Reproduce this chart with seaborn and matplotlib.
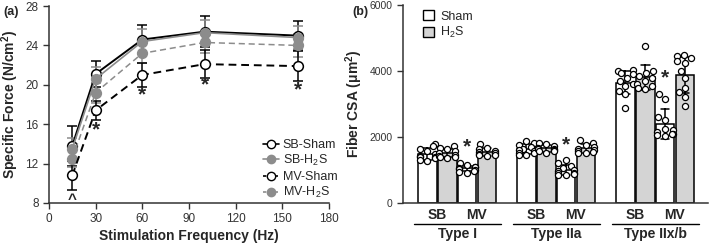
import matplotlib
matplotlib.use("Agg")
import matplotlib.pyplot as plt
import matplotlib.transforms as mtransforms
from matplotlib.lines import Line2D
from matplotlib.patches import Patch
import seaborn as sns
import pandas as pd

# ---- panel (a) data: specific force vs stimulation frequency ----
freq = [15, 30, 60, 100, 160]
sb_sham = [13.8, 21.1, 24.6, 25.4, 25.0]
sb_sham_sd = [2.0, 1.3, 1.5, 1.6, 1.5]
sb_h2s = [13.5, 20.6, 24.4, 25.3, 24.8]
sb_h2s_sd = [1.1, 1.2, 1.3, 1.3, 1.2]
mv_sham = [10.8, 17.4, 21.0, 22.1, 21.9]
mv_sham_sd = [1.5, 1.0, 1.2, 1.4, 1.5]
mv_h2s = [12.5, 19.2, 23.2, 24.3, 24.0]
mv_h2s_sd = [0.9, 1.0, 1.0, 1.1, 1.2]
star_a_x = [30, 60, 100, 160]
star_a_y = [15.4, 19.0, 20.0, 19.5]

# ---- panel (b) data: fiber CSA per animal ----
fiber_types = ["Type I", "Type IIa", "Type IIx/b"]
groups = ["SB", "MV"]
treatments = ["Sham", "H2S"]
csa = {
    ("Type I", "SB", "Sham"): [1800, 1720, 1650, 1560, 1480, 1430, 1400, 1380, 1350, 1300, 1280],
    ("Type I", "SB", "H2S"): [1740, 1680, 1620, 1560, 1500, 1450, 1420, 1400, 1380, 1360],
    ("Type I", "MV", "Sham"): [1200, 1150, 1100, 1080, 1050, 1020, 1000, 980, 950, 920],
    ("Type I", "MV", "H2S"): [1800, 1680, 1620, 1580, 1540, 1500, 1480, 1460, 1450, 1430],
    ("Type IIa", "SB", "Sham"): [1880, 1820, 1760, 1700, 1650, 1600, 1560, 1520, 1500, 1460, 1450],
    ("Type IIa", "SB", "H2S"): [1830, 1780, 1720, 1680, 1650, 1620, 1600, 1580, 1560, 1520],
    ("Type IIa", "MV", "Sham"): [1300, 1200, 1120, 1060, 1000, 960, 920, 900, 880, 860, 850],
    ("Type IIa", "MV", "H2S"): [1910, 1820, 1750, 1690, 1640, 1600, 1570, 1540, 1520, 1500],
    ("Type IIx/b", "SB", "Sham"): [4020, 3990, 3950, 3900, 3800, 3700, 3620, 3550, 3400, 3300, 2870],
    ("Type IIx/b", "SB", "H2S"): [4750, 4000, 3950, 3850, 3800, 3700, 3600, 3550, 3500, 3450],
    ("Type IIx/b", "MV", "Sham"): [3300, 3150, 2600, 2500, 2250, 2200, 2150, 2100, 2080, 2050, 2020],
    ("Type IIx/b", "MV", "H2S"): [4500, 4450, 4400, 4300, 4250, 4000, 3800, 3500, 3350, 3200, 2950],
}
star_b_y = [1700, 1750, 3780]

sns.set_style("ticks")
plt.rcParams["font.family"] = ["Liberation Sans", "DejaVu Sans"]
plt.rcParams["mathtext.fontset"] = "custom"
plt.rcParams["mathtext.rm"] = "Liberation Sans"
plt.rcParams["mathtext.bf"] = "Liberation Sans:bold"

fig = plt.figure(figsize=(7.09, 2.43), dpi=100)
ax1 = fig.add_axes([0.069, 0.165, 0.395, 0.81])
ax2 = fig.add_axes([0.568, 0.165, 0.43, 0.814])

# ---------------- panel (a) ----------------
gray = "#8c8c8c"
series = [
    ("SB-Sham", sb_sham, sb_sham_sd, "black", "white", "-", 1.4),
    ("SB-H$_2$S", sb_h2s, sb_h2s_sd, gray, gray, "-", 1.2),
    ("MV-H$_2$S", mv_h2s, mv_h2s_sd, gray, gray, (0, (4, 2.5)), 1.1),
    ("MV-Sham", mv_sham, mv_sham_sd, "black", "white", (0, (4, 2.5)), 1.4),
]
for name, y, sd, col, face, ls, lw in series:
    ax1.errorbar(freq, y, yerr=sd, fmt="none", ecolor=col, elinewidth=1.1,
                 capsize=3.5, capthick=1.1, zorder=2)
    sns.lineplot(x=freq, y=y, ax=ax1, color=col, linewidth=lw, linestyle=ls,
                 marker="o", markersize=7, markerfacecolor=face,
                 markeredgecolor="black" if face == "white" else gray,
                 markeredgewidth=1.1, zorder=3)

for x, y in zip(star_a_x, star_a_y):
    ax1.text(x, y, "*", ha="center", va="center", fontsize=15, fontweight="bold")
ax1.text(15, 8.3, "^", ha="center", va="center", fontsize=11, fontweight="bold")

ax1.set_xlim(0, 180)
ax1.set_ylim(8, 28)
ax1.set_xticks(range(0, 181, 30))
ax1.set_yticks(range(8, 29, 4))
ax1.set_xlabel("Stimulation Frequency (Hz)", fontsize=10, fontweight="bold", labelpad=3)
ax1.set_ylabel("Specific Force (N/cm$^\\mathbf{2}$)", fontsize=10, fontweight="bold", labelpad=3)
ax1.tick_params(labelsize=8.5, length=4, width=1, colors="#333333", labelcolor="#333333")
for s in ["left", "bottom"]:
    ax1.spines[s].set_linewidth(1.1)
    ax1.spines[s].set_color("#333333")
sns.despine(ax=ax1)

def handle(col, face, ls):
    return Line2D([0], [0], color=col, linestyle=ls, linewidth=1.2, marker="o",
                  markersize=6, markerfacecolor=face,
                  markeredgecolor="black" if face == "white" else gray)

leg_kw = dict(frameon=False, fontsize=9, handlelength=1.3, handletextpad=0.3,
              labelspacing=0.12, borderaxespad=0)
leg1 = ax1.legend([handle("black", "white", "-"), handle(gray, gray, "-")],
                  ["SB-Sham", "SB-H$_2$S"], loc="upper left",
                  bbox_to_anchor=(0.745, 0.35), **leg_kw)
ax1.add_artist(leg1)
ax1.legend([handle("black", "white", (0, (2, 1.5))), handle(gray, gray, (0, (2, 1.5)))],
           ["MV-Sham", "MV-H$_2$S"], loc="upper left",
           bbox_to_anchor=(0.745, 0.185), **leg_kw)

# ---------------- panel (b) ----------------
rows = []
order = []
for i, ft in enumerate(fiber_types):
    if i > 0:
        order += [f"gap{i}a"]
    for g in groups:
        for t in treatments:
            order.append(f"{ft}|{g}|{t}")
            for v in csa[(ft, g, t)]:
                rows.append({"cond": f"{ft}|{g}|{t}", "trt": t, "csa": v})
df = pd.DataFrame(rows)

sns.barplot(data=df, x="cond", y="csa", order=order, hue="trt", dodge=False,
            palette={"Sham": "white", "H2S": "#d4d4d4"}, edgecolor="black",
            linewidth=1.1, width=0.94, errorbar="sd", capsize=0.45,
            err_kws={"color": "black", "linewidth": 1.1}, legend=False, ax=ax2)
sns.swarmplot(data=df, x="cond", y="csa", order=order, color="white",
              edgecolor="black", linewidth=0.9, size=4.4, ax=ax2, zorder=4)

ax2.set_xlim(-1.25, len(order) + 0.15)
ax2.set_ylim(0, 6000)
ax2.set_yticks([0, 2000, 4000, 6000])
ax2.set_xticks([])
ax2.set_xlabel("")
ax2.set_ylabel("Fiber CSA (μm$^\\mathbf{2}$)", fontsize=10, fontweight="bold", labelpad=3)
ax2.tick_params(labelsize=7.5, length=4, width=1, colors="#333333", labelcolor="#333333")
for s in ["left", "bottom"]:
    ax2.spines[s].set_linewidth(1.1)
    ax2.spines[s].set_color("#333333")
sns.despine(ax=ax2)

trans = mtransforms.blended_transform_factory(ax2.transData, ax2.transAxes)
for i, ft in enumerate(fiber_types):
    start = order.index(f"{ft}|SB|Sham")
    ax2.text(start + 0.5, -0.025, "SB", transform=trans, ha="center", va="top",
             fontsize=10, fontweight="bold")
    ax2.text(start + 2.5, -0.025, "MV", transform=trans, ha="center", va="top",
             fontsize=10, fontweight="bold")
    ax2.plot([start - 0.7, start + 3.7], [-0.105, -0.105], transform=trans,
             color="black", linewidth=1, clip_on=False)
    ax2.text(start + 1.5, -0.122, ft, transform=trans, ha="center", va="top",
             fontsize=10, fontweight="bold")
    ax2.text(start + 2, star_b_y[i], "*", ha="center", va="center",
             fontsize=15, fontweight="bold")

ax2.legend([Patch(facecolor="white", edgecolor="black", linewidth=1),
            Patch(facecolor="#d4d4d4", edgecolor="black", linewidth=1)],
           ["Sham", "H$_2$S"], loc="upper left", bbox_to_anchor=(0.05, 1.0),
           frameon=False, fontsize=9, handlelength=0.9, handleheight=0.9,
           handletextpad=0.5, labelspacing=0.2, borderaxespad=0)

fig.text(0.005, 0.975, "(a)", fontsize=9, fontweight="bold", va="top")
fig.text(0.497, 0.975, "(b)", fontsize=9, fontweight="bold", va="top")

fig.savefig("out.png", dpi=100)
